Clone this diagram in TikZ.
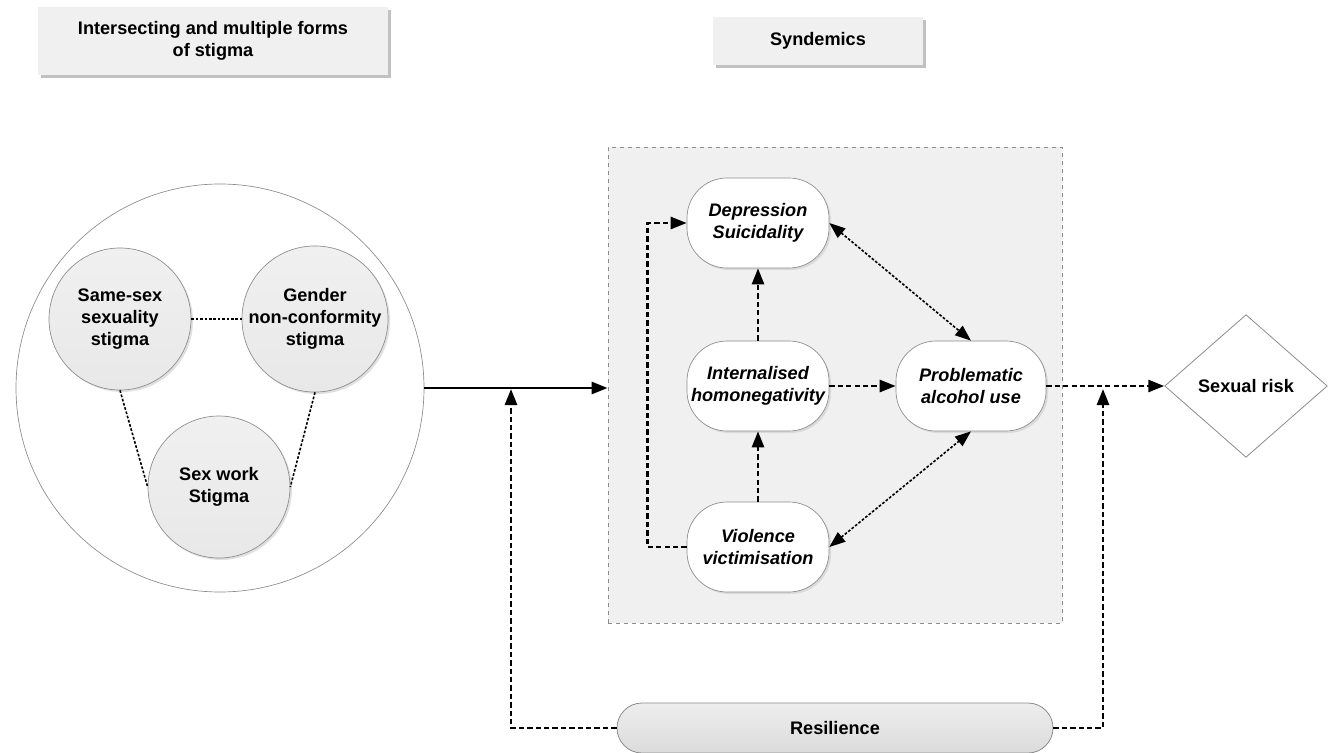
\documentclass[tikz,border=0pt]{standalone}
\usepackage{fontspec}
\setmainfont{Liberation Sans}
\usetikzlibrary{arrows.meta,shapes.geometric,shadows,calc}
\definecolor{boxgray}{HTML}{F0F0F0}
\definecolor{linegray}{HTML}{8C8C8C}
\begin{document}
\begin{tikzpicture}[x=0.75pt,y=-0.75pt,
  every node/.style={font=\fontsize{13.6}{16.5}\selectfont\bfseries, align=center, inner sep=0pt},
  titlebox/.style={fill=boxgray, draw=none, drop shadow={shadow xshift=2.2pt, shadow yshift=-2.2pt, fill=black!30, opacity=0.8}},
  stig/.style={circle, minimum size=106.5pt, draw=linegray, line width=0.5pt, top color=boxgray, bottom color=black!9, drop shadow={shadow xshift=1.5pt, shadow yshift=-1.5pt, fill=black!20, opacity=0.6}},
  syn/.style={rounded corners=30pt, minimum width=106.5pt, minimum height=67.5pt, draw=linegray, line width=0.5pt, fill=white, font=\fontsize{13.6}{16.5}\selectfont\bfseries\itshape, drop shadow={shadow xshift=1.5pt, shadow yshift=-1.5pt, fill=black!20, opacity=0.6}},
  thickdash/.style={line width=2pt, dash pattern=on 4pt off 2.3pt},
  thindot/.style={line width=1.2pt, dash pattern=on 2pt off 1.3pt},
  tip/.style={-{Triangle[length=12pt,width=9pt]}},
  bitip/.style={{Triangle[length=12pt,width=9pt]}-{Triangle[length=12pt,width=9pt]}}
]
\useasboundingbox (0,0) rectangle (1336,753);

% title boxes
\node[titlebox, minimum width=262.5pt, minimum height=51pt] (t1) at (213,41) {Intersecting and multiple forms\\of stigma};
\node[titlebox, minimum width=157.5pt, minimum height=36pt] (t2) at (818,41) {Syndemics};

% stigma circles
\node[circle, draw=linegray, line width=0.5pt, fill=white, minimum size=306pt] (big) at (220,388) {};
\node[stig] (ss) at (120,319) {Same-sex\\sexuality\\stigma};
\node[stig] (gn) at (315,319) {Gender\\non-conformity\\stigma};
\node[stig] (sw) at (219,487) {Sex work\\Stigma};
\draw[thindot] (ss.east) -- (gn.west);
\draw[thindot] (ss.south) -- (sw.west);
\draw[thindot] (gn.south) -- (sw.east);

% syndemics box
\node[draw=linegray, dashed, line width=0.6pt, fill=boxgray, minimum width=340.5pt, minimum height=357pt] (synd) at (835,385) {};
\node[syn] (dep) at (758,223) {Depression\\Suicidality};
\node[syn] (int) at (758,386) {Internalised\\homonegativity};
\node[syn, minimum width=112.5pt] (prob) at (971,386) {Problematic\\alcohol use};
\node[syn] (vio) at (758,547) {Violence\\victimisation};

\draw[thickdash, tip] (int.north) -- (dep.south);
\draw[thickdash, tip] (vio.north) -- (int.south);
\draw[thickdash, tip] (int.east) -- (prob.west);
\draw[thindot, bitip] (dep.east) -- (prob.north);
\draw[thindot, bitip] (vio.east) -- (prob.south);
\draw[thickdash, tip] (vio.west) -- ++(-39,0) |- (dep.west);

% main arrow
\draw[line width=2.2pt, tip] (big.east) -- (big.east -| synd.west);

% sexual risk
\node[diamond, draw=linegray, line width=0.6pt, fill=white, minimum width=122pt, minimum height=107pt] (risk) at (1246,386) {Sexual risk};
\draw[thickdash, tip] (prob.east) -- (risk.west);

% resilience
\node[rounded corners=18.75pt, minimum width=327pt, minimum height=37.5pt, draw=linegray, line width=0.6pt, top color=black!7, bottom color=black!14] (res) at (835,728) {Resilience};
\coordinate (jl) at (511,389);
\coordinate (jr) at (1103,389);
\draw[thickdash, tip] (res.west) -| (jl);
\draw[thickdash, tip] (res.east) -| (jr);
\end{tikzpicture}
\end{document}
